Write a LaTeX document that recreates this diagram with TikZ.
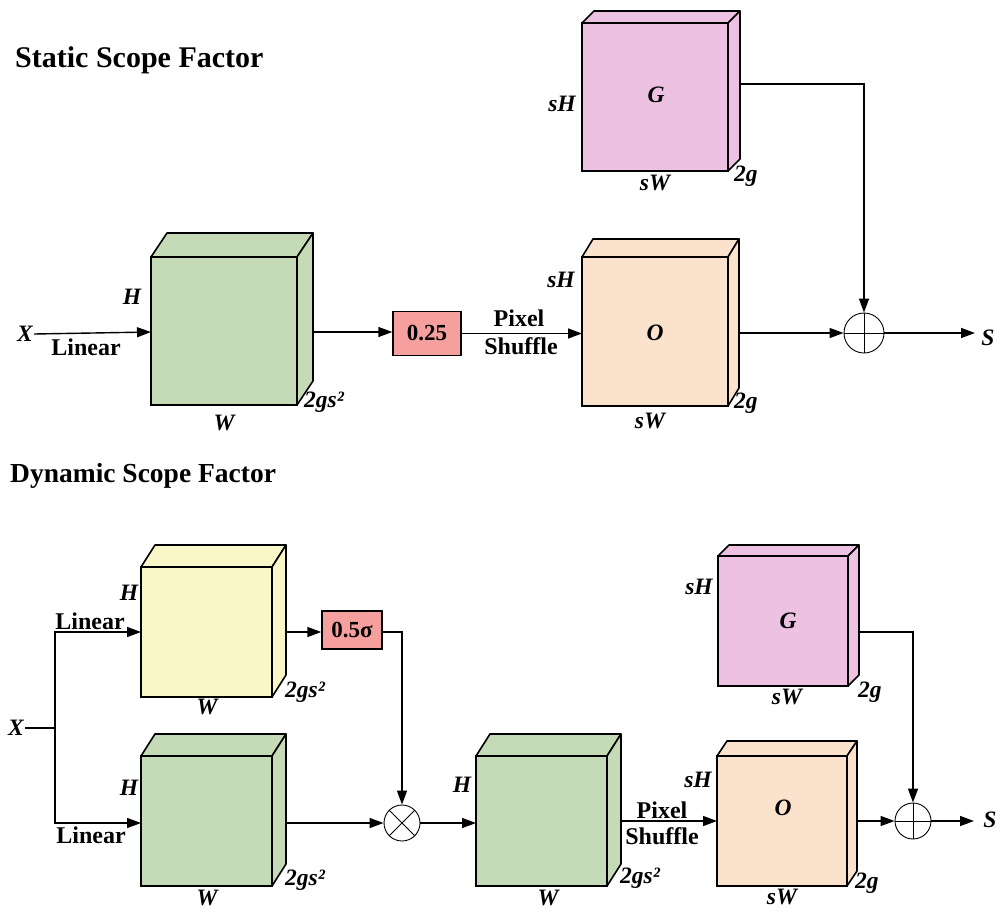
\documentclass[tikz,border=0pt]{standalone}
\usepackage{fontspec}
\setmainfont{Liberation Serif}
\usetikzlibrary{arrows.meta,calc}
\definecolor{cgreen}{RGB}{197,219,184}
\definecolor{cyellow}{RGB}{249,247,200}
\definecolor{cpink}{RGB}{236,193,226}
\definecolor{cpeach}{RGB}{251,226,205}
\definecolor{csalmon}{RGB}{245,160,158}
\newcommand\mkcube[8]{%
  \node[cubeface, fill=#8, minimum width=#4pt, minimum height=#5pt] (#1) at (#2,#3) {};
  \filldraw[fill=#8, cubeedge] (#1.north west) -- ++(#6,-#7) -- ++(#4,0) -- (#1.north east) -- cycle;
  \filldraw[fill=#8, cubeedge] (#1.north east) -- ++(#6,-#7) -- ++(0,#5) -- (#1.south east) -- cycle;
}
\tikzset{
  cubeface/.style={draw, line width=1.6pt, inner sep=0pt, outer sep=0pt},
  cubeedge/.style={line width=1.6pt, line join=round},
  lbl/.style={font=\fontsize{23.5}{25}\selectfont\bfseries\itshape, inner sep=1pt},
  txt/.style={font=\fontsize{24}{26}\selectfont\bfseries, inner sep=1pt},
  ttl/.style={font=\fontsize{30}{33}\selectfont\bfseries, inner sep=0pt, anchor=base west},
  scal/.style={draw, line width=1.4pt, fill=csalmon, inner sep=0pt, font=\fontsize{23}{25}\selectfont\bfseries},
  arr/.style={-{Triangle[length=14pt,width=10pt]}, line width=1.4pt},
  ln/.style={line width=1.4pt},
  opplus/.style={circle, draw, line width=0.9pt, minimum size=#1, inner sep=0pt,
    path picture={\draw[line width=0.9pt] (path picture bounding box.north) -- (path picture bounding box.south)
      (path picture bounding box.west) -- (path picture bounding box.east);}},
  optimes/.style={circle, draw, line width=0.9pt, minimum size=#1, inner sep=0pt,
    path picture={\draw[line width=0.9pt] (path picture bounding box.north west) -- (path picture bounding box.south east)
      (path picture bounding box.south west) -- (path picture bounding box.north east);}},
}
\begin{document}
\begin{tikzpicture}[x=1pt,y=-1pt]
\useasboundingbox[fill=white] (0,0) rectangle (1007,916);

% ---------------- Static ----------------
\node[ttl] (t1) at (15,67) {Static Scope Factor};

\mkcube{g1}{224}{331}{146}{148}{16}{24}{cgreen}
\mkcube{o1}{655}{331.5}{146}{149}{11}{18}{cpeach}
\mkcube{p1}{655}{97}{146}{148}{12}{12}{cpink}

\node[lbl] (x1) at (25,334) {X};
\node[txt] (lin1) at (86,347) {Linear};
\node[lbl] (h1) at (132,297) {H};
\node[lbl] (w1) at (224,423) {W};
\node[lbl, anchor=west] (d1) at (303,402) {2gs²};

\node[scal, minimum width=68pt, minimum height=44pt] (b025) at (427,333.5) {0.25};
\node[txt] (px1) at (519,318) {Pixel};
\node[txt] (sh1) at (521,346) {Shuffle};

\node[lbl] (o1t) at (655,333) {O};
\node[lbl] (sh1l) at (561,280) {sH};
\node[lbl] (sw1) at (650,421) {sW};
\node[lbl, anchor=west] (dg1) at (733,403) {2g};

\node[lbl] (g1t) at (656,95) {G};
\node[lbl] (sh1u) at (562,104) {sH};
\node[lbl] (sw1u) at (655,183) {sW};
\node[lbl, anchor=west] (dg1u) at (733,176) {2g};

\node[opplus=40pt] (plus1) at (864,333) {};
\node[lbl] (s1) at (988,338) {S};

\coordinate (g1r) at (313,332);
\coordinate (o1r) at (739,333);
\coordinate (p1r) at (740,84);
\coordinate (s1a) at (975,333);

\draw[arr] (x1.east) -- (g1.west |- 0,332);
\draw[arr] (g1r) -- (g1r -| b025.west);
\draw[arr] (b025.east) -- (b025.east -| o1.west);
\draw[arr] (o1r) -- (plus1.west);
\draw[arr] (p1r) -| (plus1.north);
\draw[arr] (plus1.east) -- (s1a);

% ---------------- Dynamic ----------------
\node[ttl, font=\fontsize{27.5}{30}\selectfont\bfseries] (t2) at (10,482) {Dynamic Scope Factor};

\mkcube{yc}{206.5}{632}{131}{130}{14}{22}{cyellow}
\mkcube{gc}{206.5}{821}{131}{130}{14}{22}{cgreen}
\mkcube{c3}{541.5}{821}{131}{130}{14}{22}{cgreen}
\mkcube{o2}{782}{821}{130}{130}{10}{15}{cpeach}
\mkcube{p2}{783}{621}{130}{130}{11}{11}{cpink}

\node[lbl] (x2) at (16,728) {X};
\coordinate (br) at (55,728);
\node[txt] (lin2) at (90,621) {Linear};
\node[txt] (lin3) at (91,835) {Linear};

\node[lbl] (h2) at (129,593) {H};
\node[lbl] (w2) at (207,707) {W};
\node[lbl, anchor=west] (d2) at (284,692) {2gs²};
\node[lbl] (h3) at (129,788) {H};
\node[lbl] (w3) at (207,898) {W};
\node[lbl, anchor=west] (d3) at (284,880) {2gs²};

\node[scal, minimum width=60pt, minimum height=38pt] (sig) at (352,630) {0.5σ};
\node[optimes=36pt] (tim) at (402,823) {};

\node[lbl] (h4) at (462,785) {H};
\node[lbl] (w4) at (548,898) {W};
\node[lbl, anchor=west] (d4) at (619,878) {2gs²};

\node[txt] (px2) at (662,810) {Pixel};
\node[txt] (sh2) at (662,836) {Shuffle};

\node[lbl] (o2t) at (783,808) {O};
\node[lbl] (sh2l) at (698,780) {sH};
\node[lbl] (sw2) at (782,897) {sW};
\node[lbl, anchor=west] (dg2) at (854,883) {2g};

\node[lbl] (g2t) at (788,621) {G};
\node[lbl] (sh2u) at (699,587) {sH};
\node[lbl] (sw2u) at (787,697) {sW};
\node[lbl, anchor=west] (dg2u) at (857,692) {2g};

\node[opplus=36pt] (plus2) at (913,821) {};
\node[lbl] (s2) at (990,820) {S};

\coordinate (ycr) at (285.5,632);
\coordinate (gcr) at (285.5,823);
\coordinate (c3r) at (621,821);
\coordinate (o2r) at (857,821);
\coordinate (p2r) at (859,632);
\coordinate (s2a) at (974,821);

\draw[ln] (x2.east) -- (br);
\draw[arr] (br) |- (yc.west);
\draw[arr] (br) |- (gc.west |- 0,823);
\draw[arr] (ycr) -- (ycr -| sig.west);
\draw[arr] (sig.east |- ycr) -| (tim.north);
\draw[arr] (gcr) -- (tim.west);
\draw[arr] (tim.east) -- (tim.east -| c3.west);
\draw[arr] (c3r) -- (c3r -| o2.west);
\draw[arr] (o2r) -- (plus2.west);
\draw[arr] (p2r) -| (plus2.north);
\draw[arr] (plus2.east) -- (s2a);
\end{tikzpicture}
\end{document}
